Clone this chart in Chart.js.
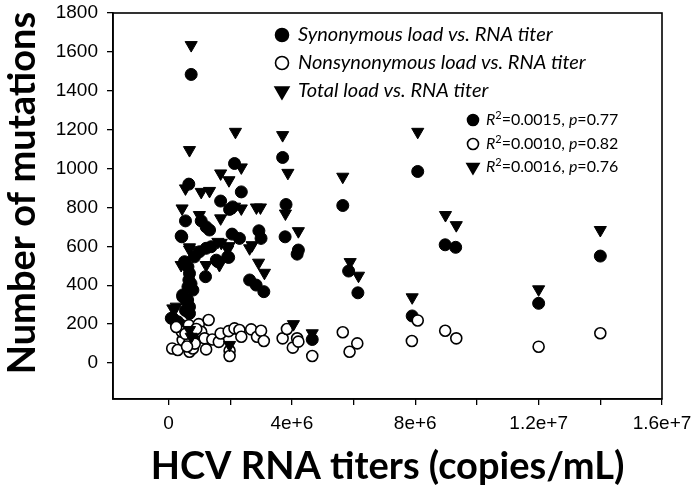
<!DOCTYPE html>
<html lang="en">
<head>
    <meta charset="UTF-8">
    <title>Mutation load vs HCV RNA titer</title>
    <script src="https://cdn.jsdelivr.net/npm/chart.js"></script>
    <style>
        body { margin: 0; background: #fff; }
        .wrap { width: 691px; height: 499px; }
    </style>
</head>
<body>
<div class="wrap"><canvas id="chart" width="691" height="499"></canvas></div>

<script>
    // synonymous load (filled circles)
    const synX = [7.35e5, 3.70e6, 2.14e6, 6.58e5, 2.36e6, 1.69e6, 1.98e6, 2.08e6, 3.81e6, 5.65e6,
        5.50e5, 1.06e6, 1.22e6, 1.33e6, 4.30e5, 2.06e6, 2.30e6, 2.93e6, 3.00e6, 3.78e6,
        4.21e6, 1.95e6, 8.08e6, 8.97e6, 9.31e6, 5.84e6, 6.14e6, 7.90e6, 1.40e7, 1.20e7,
        4.17e6, 2.63e6, 2.84e6, 3.09e6, 1.92e6, 1.55e6, 1.20e6, 1.60e6, 8.40e5, 1.00e6,
        1.22e6, 1.38e6, 5.20e5, 6.30e5, 6.80e5, 6.60e5, 6.30e5, 4.60e5, 5.70e5, 7.90e5,
        6.80e5, 9.0e4, 2.50e5, 4.10e5, 3.00e5, 1.40e5, 4.66e6, 7.90e5, 6.20e5, 4.60e5,
        4.10e5, 7.00e5, 6.80e5, 5.50e5, 7.30e5];
    const synY = [1484, 1057, 1026, 920, 880, 833, 790, 803, 815, 810,
        731, 731, 700, 684, 649, 663, 641, 680, 641, 649,
        581, 543, 985, 608, 595, 473, 361, 242, 550, 307,
        560, 427, 401, 367, 546, 529, 444, 521, 546, 572,
        590, 598, 521, 495, 461, 427, 392, 350, 324, 375,
        289, 230, 212, 195, 212, 230, 121, 118, 324, 341,
        653, 150, 255, 270, 408];

    // nonsynonymous load (open circles)
    const nonX = [1.2e5, 3.0e5, 4.6e5, 4.3e5, 6.6e5, 6.6e5, 6.8e5, 7.9e5, 9.8e5, 1.06e6,
        1.17e6, 1.30e6, 1.22e6, 1.42e6, 1.63e6, 1.69e6, 1.95e6, 1.98e6, 1.98e6, 2.14e6,
        2.30e6, 2.36e6, 2.68e6, 2.87e6, 3.00e6, 3.09e6, 3.70e6, 3.84e6, 4.03e6, 4.17e6,
        4.21e6, 4.66e6, 5.65e6, 6.12e6, 5.87e6, 7.89e6, 8.08e6, 8.97e6, 9.33e6, 1.20e7,
        1.40e7, 5.5e5, 8.5e5, 9.0e5, 6.0e5, 2.5e5];
    const nonY = [75, 67, 118, 161, 195, 101, 58, 75, 200, 161,
        127, 221, 70, 121, 109, 152, 164, 63, 36, 178,
        170, 135, 173, 135, 166, 113, 127, 175, 79, 127,
        110, 36, 158, 101, 58, 113, 219, 166, 127, 84,
        153, 150, 100, 175, 85, 185];

    // total load (down triangles)
    const totX = [7.35e5, 2.17e6, 3.70e6, 6.80e5, 2.36e6, 3.87e6, 1.69e6, 1.96e6, 5.65e6, 5.50e5,
        1.06e6, 1.33e6, 2.14e6, 2.36e6, 2.98e6, 2.85e6, 4.40e5, 3.79e6, 1.00e6, 1.69e6,
        6.80e5, 1.60e6, 1.96e6, 2.71e6, 4.21e6, 2.92e6, 8.08e6, 8.98e6, 9.33e6, 5.89e6,
        6.16e6, 7.90e6, 1.40e7, 1.20e7, 3.11e6, 1.22e6, 1.65e6, 6.80e5, 4.10e5, 1.71e6,
        1.92e6, 2.63e6, 1.40e5, 2.50e5, 7.35e5, 6.80e5, 4.05e6, 4.66e6, 1.98e6];
    const totY = [1635, 1189, 1172, 1095, 1006, 978, 975, 940, 958, 898,
        880, 885, 804, 795, 800, 800, 795, 769, 761, 744,
        595, 623, 601, 606, 678, 516, 1189, 761, 709, 519,
        449, 338, 684, 379, 464, 504, 504, 584, 504, 618,
        584, 590, 281, 290, 135, 170, 200, 153, 93];

    const xTicks = [0, 2e6, 4e6, 6e6, 8e6, 1e7, 1.2e7, 1.4e7, 1.6e7];
    const xTickLabels = ['0', '', '4e+6', '', '8e+6', '', '1.2e+7', '', '1.6e+7'];
    const yTicks = [0, 200, 400, 600, 800, 1000, 1200, 1400, 1600, 1800];

    const legendNames = ['Synonymous load vs. RNA titer', 'Nonsynonymous load vs. RNA titer', 'Total load vs. RNA titer'];
    const r2Values = ['0.0015', '0.0010', '0.0016'];
    const pValues = ['0.77', '0.82', '0.76'];

    function pts(xs, ys) {
        return xs.map((x, i) => ({ x: x, y: ys[i] }));
    }

    const styles = [
        { pointStyle: 'circle', rotation: 0, fill: '#000' },
        { pointStyle: 'circle', rotation: 0, fill: '#fff' },
        { pointStyle: 'triangle', rotation: 180, fill: '#000' }
    ];

    function marker(ctx, s, x, y, r) {
        ctx.save();
        ctx.fillStyle = s.fill;
        ctx.strokeStyle = '#000';
        Chart.helpers.drawPoint(ctx, { pointStyle: s.pointStyle, rotation: s.rotation, radius: r, borderWidth: 1.6 }, x, y);
        ctx.restore();
    }

    // box around plot, y title and the two legends
    const extras = {
        id: 'extras',
        afterDraw(chart) {
            const ctx = chart.ctx;
            const a = chart.chartArea;
            ctx.save();
            ctx.strokeStyle = '#000';
            ctx.lineWidth = 1.6;
            ctx.strokeRect(a.left, a.top, a.right - a.left, a.bottom - a.top);

            // y axis title
            ctx.save();
            ctx.translate(23, 193);
            ctx.rotate(-Math.PI / 2);
            ctx.fillStyle = '#000';
            ctx.font = 'bold 38px Lato';
            ctx.textAlign = 'center';
            ctx.textBaseline = 'middle';
            ctx.fillText('Number of mutations', 0, 0, 378);
            ctx.restore();

            // main legend
            ctx.textBaseline = 'middle';
            const rowY = [35, 63, 91];
            const widths = [262, 295, 197];
            legendNames.forEach((t, i) => {
                marker(ctx, styles[i], 282, rowY[i], i == 2 ? 8 : 6.5);
                ctx.fillStyle = '#000';
                ctx.font = 'italic 20px Lato';
                ctx.fillText(t, 298, rowY[i], widths[i]);
            });

            // R2 legend
            const r2Y = [120, 144, 167];
            r2Values.forEach((r, i) => {
                marker(ctx, styles[i], 473, r2Y[i], i == 2 ? 7 : 5.5);
                ctx.fillStyle = '#000';
                let x = 486;
                const y = r2Y[i];
                ctx.font = 'italic 16px Lato';
                ctx.fillText('R', x, y);
                x += ctx.measureText('R').width;
                ctx.font = '11px Lato';
                ctx.fillText('2', x, y - 5);
                x += ctx.measureText('2').width;
                ctx.font = '16px Lato';
                let s = '=' + r + ', ';
                ctx.fillText(s, x, y);
                x += ctx.measureText(s).width;
                ctx.font = 'italic 16px Lato';
                ctx.fillText('p', x, y);
                x += ctx.measureText('p').width;
                ctx.font = '16px Lato';
                ctx.fillText('=' + pValues[i], x, y);
            });
            ctx.restore();
        }
    };

    new Chart(document.getElementById('chart'), {
        type: 'scatter',
        data: {
            datasets: [
                {
                    label: 'Total load vs. RNA titer',
                    data: pts(totX, totY),
                    pointStyle: 'triangle',
                    rotation: 180,
                    pointRadius: 7,
                    backgroundColor: '#000',
                    borderColor: '#000',
                    borderWidth: 1
                },
                {
                    label: 'Nonsynonymous load vs. RNA titer',
                    data: pts(nonX, nonY),
                    pointStyle: 'circle',
                    pointRadius: 5.5,
                    backgroundColor: '#fff',
                    borderColor: '#000',
                    borderWidth: 1.6
                },
                {
                    label: 'Synonymous load vs. RNA titer',
                    data: pts(synX, synY),
                    pointStyle: 'circle',
                    pointRadius: 6,
                    backgroundColor: '#000',
                    borderColor: '#000',
                    borderWidth: 1
                }
            ]
        },
        options: {
            responsive: false,
            animation: false,
            devicePixelRatio: 1,
            layout: { padding: { top: 13, right: 29, left: 0, bottom: 0 } },
            plugins: { legend: { display: false }, tooltip: { enabled: false } },
            scales: {
                x: {
                    type: 'linear',
                    min: -1.8e6,
                    max: 1.6e7,
                    afterBuildTicks: s => { s.ticks = xTicks.map(v => ({ value: v })); },
                    afterFit: s => { s.height = 100; s.paddingLeft = 0; s.paddingRight = 0; },
                    grid: { drawOnChartArea: false, drawTicks: true, tickLength: 6, color: '#000', lineWidth: 1.3 },
                    border: { display: true, color: '#000', width: 1.6 },
                    ticks: {
                        color: '#000',
                        font: { family: 'Liberation Sans', size: 19 },
                        padding: 7,
                        autoSkip: false,
                        maxRotation: 0,
                        callback: (v, i) => xTickLabels[i]
                    },
                    title: {
                        display: true,
                        text: 'HCV RNA titers (copies/mL)',
                        color: '#000',
                        font: { family: 'Lato', size: 38, weight: 'bold' },
                        padding: { top: 9, bottom: 9 }
                    }
                },
                y: {
                    min: -185,
                    max: 1800,
                    afterBuildTicks: s => { s.ticks = yTicks.map(v => ({ value: v })); },
                    afterFit: s => { s.width = 113; s.paddingTop = 0; s.paddingBottom = 0; },
                    grid: { drawOnChartArea: false, drawTicks: true, tickLength: 6, color: '#000', lineWidth: 1.3 },
                    border: { display: true, color: '#000', width: 1.6 },
                    ticks: {
                        color: '#000',
                        font: { family: 'Liberation Sans', size: 19 },
                        padding: 9,
                        callback: v => String(v)
                    }
                }
            }
        },
        plugins: [extras]
    });
</script>
</body>
</html>
